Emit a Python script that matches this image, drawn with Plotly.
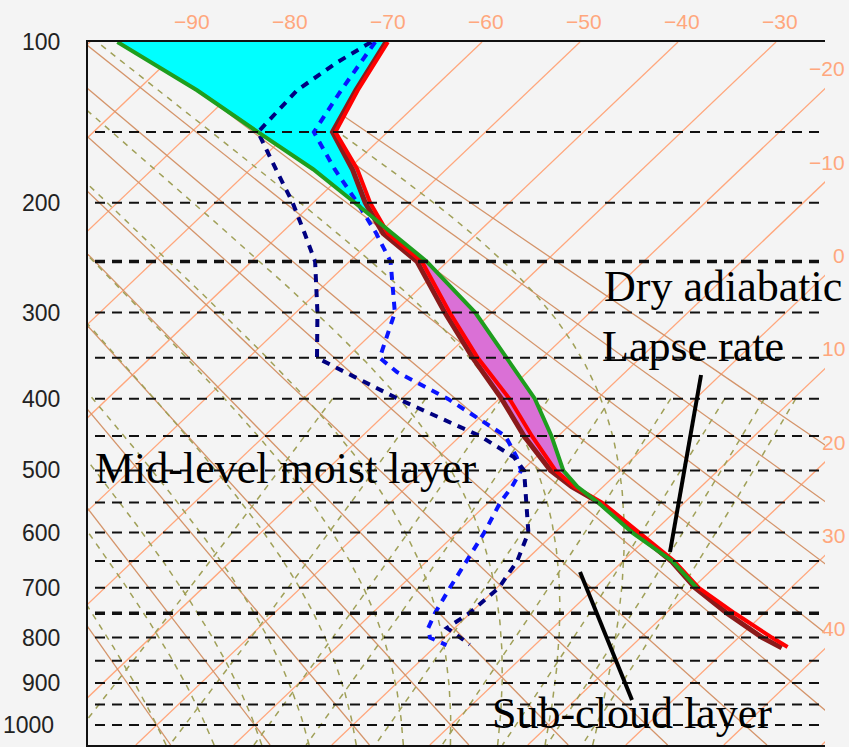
import numpy as np
import plotly.graph_objects as go

# ---------------- data (pressure hPa, temperature degC) ----------------
P_ENV = [100, 125, 150, 175, 200, 225, 250, 300, 350, 400, 450, 500, 525, 550, 600, 650, 700, 750, 800, 820]
T_ENV = [-69.6, -67.5, -65.3, -59.1, -54.2, -49.1, -42.6, -34.3, -26.6, -19.0, -12.7, -6.6, -2.9, 1.6, 8.6, 15.2, 20.6, 27.0, 33.4, 36.0]

P_ENV2 = [100, 125, 150, 175, 200, 225, 250, 300, 350, 400, 450, 500, 525, 550, 600, 650, 700, 750, 800, 822]
T_ENV2 = [-69.8, -67.7, -65.6, -59.6, -54.7, -49.6, -43.1, -34.8, -27.1, -19.8, -13.5, -7.1, -3.2, 1.3, 8.3, 14.9, 20.2, 26.2, 32.4, 35.5]

P_PCL = [100, 125, 150, 175, 200, 225, 250, 300, 350, 400, 450, 500, 525, 550, 600, 650, 700]
T_PCL = [-97.2, -83.9, -73.2, -63.6, -55.75, -48.7, -42.1, -31.7, -23.6, -16.4, -10.7, -5.8, -2.6, 1.2, 7.9, 15.0, 20.4]

P_TD1 = [100, 125, 150, 175, 200, 225, 250, 300, 350, 367, 400, 450, 480, 500, 525, 550, 600, 650, 700, 750, 780, 800, 816]
T_TD1 = [-70.9, -69.2, -67.5, -61.4, -55.5, -50.3, -45.8, -39.9, -36.6, -33.3, -25.3, -15.4, -12.0, -10.1, -9.3, -8.8, -7.2, -6.0, -4.8, -3.6, -2.7, -1.5, 1.0]

P_TD2 = [100, 110, 125, 150, 175, 200, 225, 250, 300, 350, 367, 400, 450, 480, 500, 550, 600, 650, 700, 750, 780, 800, 815]
T_TD2 = [-71.3, -72.6, -73.7, -73.2, -67.4, -62.1, -57.6, -53.5, -47.8, -43.0, -38.6, -30.4, -18.0, -12.3, -9.8, -6.1, -2.7, -0.8, 0.2, -0.1, -0.8, 1.6, 3.3]

# negative (cyan) and positive (magenta) areas, by pressure range
CYAN_RANGE = (100, 225)
MAGENTA_RANGE = (225, 525)

PRESSURE_TICKS = [100, 200, 300, 400, 500, 600, 700, 800, 900, 1000]
TOP_T_LABELS = [-90, -80, -70, -60, -50, -40, -30]
RIGHT_T_LABELS = [-20, -10, 0, 10, 20, 30, 40]

ISOTHERMS = list(range(-170, 60, 10))
DRY_ADIABATS = list(range(-30, 91, 10))         # potential temperature, degC
MOIST_ADIABATS = list(range(-20, 30, 5))        # wet-bulb potential temperature, degC
MIXING_RATIOS = [0.4, 1, 2, 3, 5, 8, 12, 16, 20]  # g/kg
ISOBARS = list(range(150, 1001, 50))
BOLD_ISOBARS = [250, 750]

# ---------------- skew-T geometry ----------------
KAPPA = 0.286
P_TOP, P_BOT = 100.0, 1050.0
Y_TOP, Y_BOT = P_TOP ** KAPPA, P_BOT ** KAPPA
SKEW = 21.04
X_LEFT, X_RIGHT = -100.204, -25.0


def yv(p):
    return np.asarray(p, dtype=float) ** KAPPA


def xv(t, p):
    return np.asarray(t, dtype=float) - SKEW * (yv(p) - Y_TOP)


def join(segments):
    xs, ys = [], []
    for sx, sy in segments:
        xs += list(sx) + [None]
        ys += list(sy) + [None]
    return xs, ys


pgrid = np.linspace(P_TOP, P_BOT, 60)

iso_segs = [(xv(np.full_like(pgrid, t), pgrid), yv(pgrid)) for t in ISOTHERMS]
dry_segs = []
for th in DRY_ADIABATS:
    tk = (th + 273.15) * (pgrid / 1000.0) ** KAPPA - 273.15
    dry_segs.append((xv(tk, pgrid), yv(pgrid)))

RD, CP, LV, EPS = 287.04, 1005.7, 2.501e6, 0.622


def es(tk):
    tc = tk - 273.15
    return 6.112 * np.exp(17.67 * tc / (tc + 243.5))


def dtdp(tk, p):
    e = es(tk)
    rs = EPS * e / (p - e)
    return (RD * tk + LV * rs) / (p * (CP + LV ** 2 * rs * EPS / (RD * tk ** 2)))


def integrate(t0, p0, p1, step):
    ps, ts = [p0], [t0]
    t, p = t0, p0
    n = int(abs(p1 - p0) / step)
    h = (p1 - p0) / n
    for _ in range(n):
        k1 = dtdp(t, p)
        k2 = dtdp(t + h * k1 / 2, p + h / 2)
        k3 = dtdp(t + h * k2 / 2, p + h / 2)
        k4 = dtdp(t + h * k3, p + h)
        t += h * (k1 + 2 * k2 + 2 * k3 + k4) / 6
        p += h
        ps.append(p)
        ts.append(t)
    return ps, ts


moist_segs = []
for tw in MOIST_ADIABATS:
    pu, tu = integrate(tw + 273.15, 1000.0, P_TOP, 5.0)
    pd, td = integrate(tw + 273.15, 1000.0, P_BOT, 5.0)
    ps = np.array(pd[::-1] + pu[1:])
    ts = np.array(td[::-1] + tu[1:]) - 273.15
    moist_segs.append((xv(ts, ps), yv(ps)))

pmix = np.linspace(400, P_BOT, 40)
mix_segs = []
for w in MIXING_RATIOS:
    e = w * pmix / (622.0 + w)
    a = np.log(e / 6.112)
    td = 243.5 * a / (17.67 - a)
    mix_segs.append((xv(td, pmix), yv(pmix)))

fig = go.Figure()

# background lines
for segs, color, width, dash in [
    (iso_segs, "#FFA77D", 1.3, "solid"),
    (dry_segs, "#D4946A", 1.3, "solid"),
    (moist_segs, "#A0A058", 1.5, "6px,6px"),
    (mix_segs, "#A0A058", 1.5, "6px,6px"),
]:
    xs, ys = join(segs)
    fig.add_trace(go.Scatter(x=xs, y=ys, mode="lines", hoverinfo="skip",
                             line=dict(color=color, width=width, dash=dash)))


def sel(P, T, lo, hi):
    P = np.asarray(P, float)
    T = np.asarray(T, float)
    m = (P >= lo) & (P <= hi)
    return P[m], T[m]


# cyan area between parcel and environment
pp, tp = sel(P_PCL, T_PCL, *CYAN_RANGE)
pe, te = sel(P_ENV, T_ENV, *CYAN_RANGE)
fig.add_trace(go.Scatter(
    x=list(xv(tp, pp)) + list(xv(te, pe))[::-1],
    y=list(yv(pp)) + list(yv(pe))[::-1],
    fill="toself", fillcolor="#00FFFF", mode="lines", line=dict(width=0), hoverinfo="skip"))

# magenta area
pp, tp = sel(P_PCL, T_PCL, *MAGENTA_RANGE)
pe, te = sel(P_ENV2, T_ENV2, *MAGENTA_RANGE)
fig.add_trace(go.Scatter(
    x=list(xv(tp, pp)) + list(xv(te, pe))[::-1],
    y=list(yv(pp)) + list(yv(pe))[::-1],
    fill="toself", fillcolor="#DA70D6", mode="lines", line=dict(width=0), hoverinfo="skip"))

# dewpoint profiles
fig.add_trace(go.Scatter(x=xv(T_TD1, P_TD1), y=yv(P_TD1), mode="lines",
                         line=dict(color="#0A14FF", width=4, dash="8px,7px"), hoverinfo="skip"))
fig.add_trace(go.Scatter(x=xv(T_TD2, P_TD2), y=yv(P_TD2), mode="lines",
                         line=dict(color="#000080", width=4, dash="8px,7px"), hoverinfo="skip"))

# temperature profiles
fig.add_trace(go.Scatter(x=xv(T_ENV2, P_ENV2), y=yv(P_ENV2), mode="lines",
                         line=dict(color="#8B1A1A", width=5), hoverinfo="skip"))
fig.add_trace(go.Scatter(x=xv(T_ENV, P_ENV), y=yv(P_ENV), mode="lines",
                         line=dict(color="#FF0000", width=4), hoverinfo="skip"))
fig.add_trace(go.Scatter(x=xv(T_PCL, P_PCL), y=yv(P_PCL), mode="lines",
                         line=dict(color="#1E9E1E", width=4), hoverinfo="skip"))

shapes = []
for p in ISOBARS:
    bold = p in BOLD_ISOBARS
    shapes.append(dict(type="line", xref="paper", yref="y", x0=7 / 737, x1=1,
                       y0=float(yv(p)), y1=float(yv(p)),
                       line=dict(color="#111111", width=3.5 if bold else 2,
                                 dash="10px,7px")))
# pointer lines
shapes.append(dict(type="line", xref="paper", yref="paper", x0=0.8318, y0=0.5263, x1=0.7897, y1=0.2745,
                   line=dict(color="black", width=4)))
shapes.append(dict(type="line", xref="paper", yref="paper", x0=0.6676, y0=0.2461, x1=0.7381, y1=0.0640,
                   line=dict(color="black", width=4)))

ann = []
for p in PRESSURE_TICKS:
    right_px = 56 if p == 1000 else 62
    ann.append(dict(text=str(p), xref="paper", yref="y", x=(right_px - 88) / 737, y=float(yv(p)),
                    xanchor="right", yanchor="middle", showarrow=False,
                    font=dict(family="Liberation Sans, Arial", size=23, color="#222222")))
for t in TOP_T_LABELS:
    ann.append(dict(text=str(t).replace("-", "\u2212"), xref="x", yref="paper", x=float(t), y=1,
                    xanchor="center", yanchor="middle", yshift=21, xshift=4, showarrow=False,
                    font=dict(family="Liberation Sans, Arial", size=21, color="#FFA77D")))
for t in RIGHT_T_LABELS:
    yy = Y_TOP + (t - X_RIGHT) / SKEW
    ann.append(dict(text=str(t).replace("-", "\u2212"), xref="x", yref="y", x=X_RIGHT, y=yy,
                    xanchor="right", yanchor="middle", xshift=22, yshift=20, showarrow=False,
                    font=dict(family="Liberation Sans, Arial", size=21, color="#FFA77D")))

serif = dict(family="Liberation Serif, Times New Roman", size=44, color="black")
for text, xpx, ypx in [("Dry adiabatic", 602, 286), ("Lapse rate", 600, 346),
                       ("Mid-level moist layer", 93, 469), ("Sub-cloud layer", 490, 713)]:
    ann.append(dict(text=text, xref="paper", yref="paper", x=(xpx - 88) / 737, y=(745 - ypx) / 703,
                    xanchor="left", yanchor="middle", showarrow=False, font=serif))

fig.update_layout(
    width=849, height=747,
    margin=dict(l=88, r=24, t=42, b=2),
    paper_bgcolor="#F4F4F4", plot_bgcolor="#F4F4F4",
    showlegend=False,
    shapes=shapes, annotations=ann,
    xaxis=dict(range=[X_LEFT, X_RIGHT], showgrid=False, zeroline=False, showticklabels=False,
               ticks="", showline=True, mirror=True, linecolor="#111111", linewidth=2),
    yaxis=dict(range=[Y_BOT, Y_TOP], showgrid=False, zeroline=False, showticklabels=False,
               ticks="", showline=True, linecolor="#111111", linewidth=2),
)

fig.write_html("out.html", config={"displayModeBar": False},
               post_script="document.body.style.margin='0';document.body.style.overflow='hidden';")
